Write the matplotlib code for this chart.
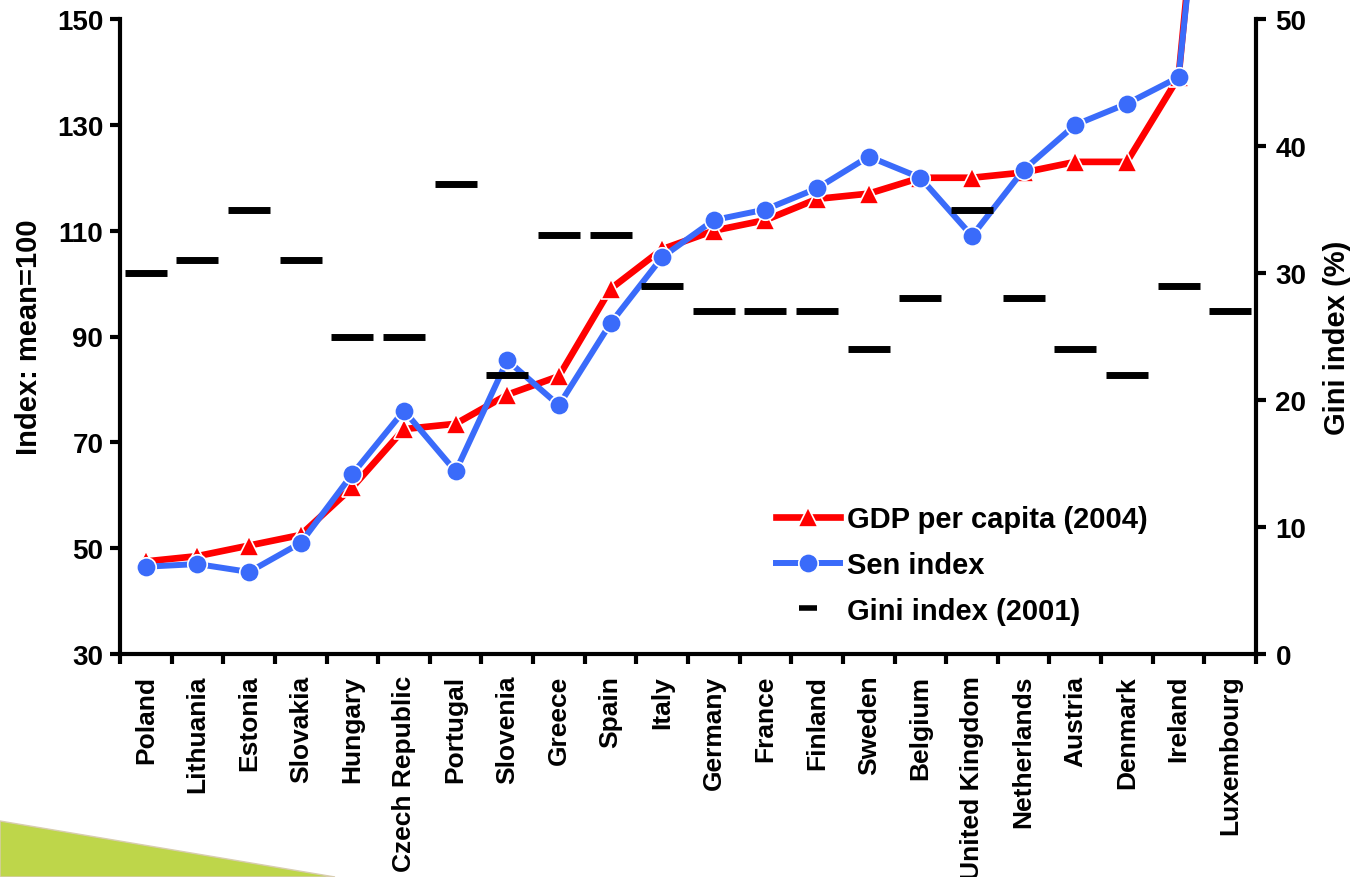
import numpy as np
import matplotlib
matplotlib.use("Agg")
import matplotlib.pyplot as plt
from matplotlib.lines import Line2D
from matplotlib.patches import Polygon

countries = ["Poland", "Lithuania", "Estonia", "Slovakia", "Hungary", "Czech Republic",
             "Portugal", "Slovenia", "Greece", "Spain", "Italy", "Germany", "France",
             "Finland", "Sweden", "Belgium", "United Kingdom", "Netherlands", "Austria",
             "Denmark", "Ireland", "Luxembourg"]
gdp = [47.5, 48.5, 50.5, 52.5, 61.5, 72.5, 73.5, 79, 82.5, 99, 106.5, 110, 112, 116,
       117, 120, 120, 121, 123, 123, 139, 240]
sen = [46.5, 47, 45.5, 51, 64, 76, 64.5, 85.5, 77, 92.5, 105, 112, 114, 118, 124,
       120, 109, 121.5, 130, 134, 139, 232]
gini = [30, 31, 35, 31, 25, 25, 37, 22, 33, 33, 29, 27, 27, 27, 24, 28, 35, 28, 24,
        22, 29, 27]
left_ticks = [30, 50, 70, 90, 110, 130, 150]
right_ticks = [0, 10, 20, 30, 40, 50]

plt.rcParams['font.family'] = ['Liberation Sans', 'DejaVu Sans']
plt.rcParams['font.weight'] = 'bold'

W, H = 1355, 878
fig = plt.figure(figsize=(W / 100, H / 100), dpi=100)
fig.patch.set_facecolor('white')

# decorative green wedge (slide background)
poly = Polygon([[0, 1 - 822 / H], [335 / W, 0], [0, 0]], closed=True,
               transform=fig.transFigure, facecolor='#BED64A',
               edgecolor='#d8cdb0', linewidth=1, zorder=0)
fig.patches.append(poly)

ax = fig.add_axes([120 / W, 1 - 655 / H, 1136 / W, 635 / H])
ax2 = ax.twinx()
ax.set_zorder(1)
ax2.set_zorder(2)
ax.patch.set_visible(False)
ax2.patch.set_visible(False)

x = np.arange(len(countries))
red = '#FF0000'
blue = '#3A6BFA'

l1, = ax.plot(x, gdp, color=red, lw=4.8, marker='^', markersize=14,
              markerfacecolor=red, markeredgecolor='white', markeredgewidth=1.2,
              clip_on=False, zorder=3, label='GDP per capita (2004)')
l2, = ax.plot(x, sen, color=blue, lw=4.3, marker='o', markersize=14,
              markerfacecolor=blue, markeredgecolor='white', markeredgewidth=1.2,
              clip_on=False, zorder=4, label='Sen index')
ax2.plot(x, gini, linestyle='none', marker='_', markersize=30, markeredgewidth=5,
         color='black', zorder=5)

ax.set_xlim(-0.5, len(countries) - 0.5)
ax.set_ylim(30, 150)
ax2.set_ylim(0, 50)
ax.set_yticks(left_ticks)
ax2.set_yticks(right_ticks)

ax.set_xticks(np.arange(-0.5, len(countries), 1.0))
ax.set_xticklabels([])
ax.set_xticks(x, minor=True)
ax.set_xticklabels(countries, minor=True, rotation=90, fontsize=19,
                   fontweight='bold', va='top', ha='center')
ax.tick_params(axis='x', which='minor', length=0, pad=15)
ax.tick_params(axis='x', which='major', direction='out', length=7, width=3)

ax.tick_params(axis='y', direction='out', length=7, width=3, labelsize=20, pad=5)
ax2.tick_params(axis='y', direction='out', length=7, width=3, labelsize=20, pad=7)
for lab in ax.get_yticklabels() + ax2.get_yticklabels():
    lab.set_fontweight('bold')

for a in (ax, ax2):
    for s in a.spines.values():
        s.set_linewidth(3)
    a.spines['top'].set_visible(False)
ax.spines['right'].set_visible(False)
ax2.spines['left'].set_visible(False)
ax2.spines['bottom'].set_visible(False)

ax.set_ylabel('Index: mean=100', fontsize=21, fontweight='bold', labelpad=10)
ax2.set_ylabel('Gini index (%)', fontsize=21, fontweight='bold', labelpad=12)

gini_handle = Line2D([], [], linestyle='none', marker='_', markersize=13,
                     markeredgewidth=4, color='black')
leg = ax2.legend([l1, l2, gini_handle],
                 ['GDP per capita (2004)', 'Sen index', 'Gini index (2001)'],
                 loc='center left', bbox_to_anchor=(776 / W, 1 - 566 / H),
                 bbox_transform=fig.transFigure, frameon=False, numpoints=1,
                 prop={'size': 21, 'weight': 'bold'}, handlelength=2.2,
                 handletextpad=0.25, labelspacing=0.6, borderpad=0, borderaxespad=0)

fig.savefig('out.png', dpi=100, facecolor='white')
